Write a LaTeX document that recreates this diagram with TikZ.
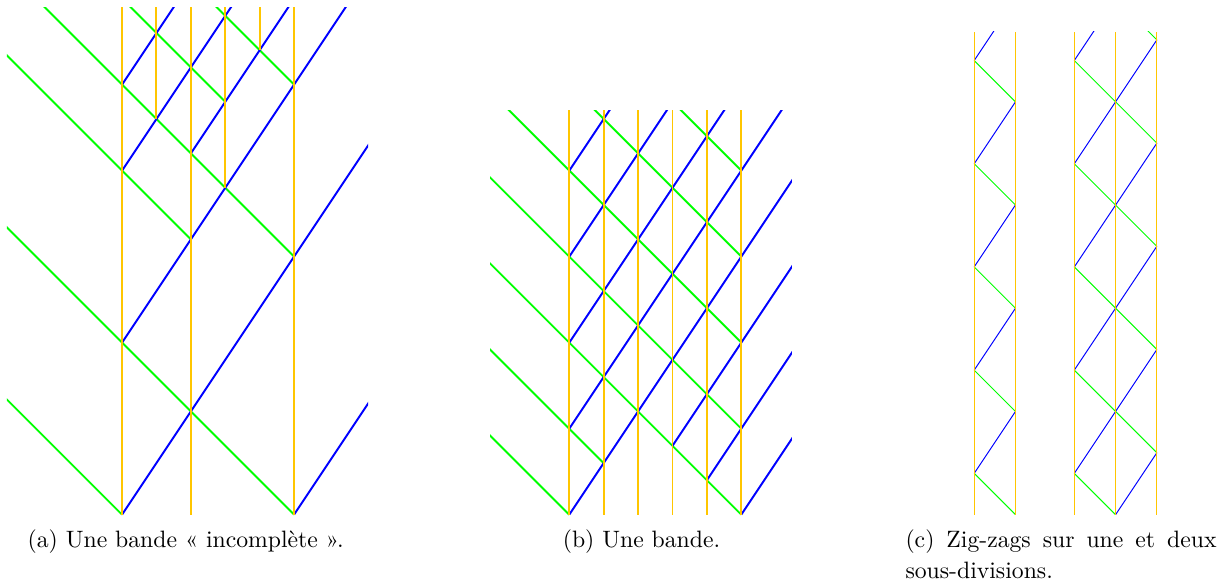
\documentclass[tikz,border=0pt]{standalone}
\usepackage{tikz}
\colorlet{railorange}{orange!45!yellow}

\begin{document}
\begin{tikzpicture}[
    x=0.5cm, y=0.5cm,
    rail/.style={draw=railorange, thick},
    monte/.style={draw=blue, thick},
    descend/.style={draw=green, thick},
    legende/.style={font=\fontsize{9.8pt}{11pt}\selectfont, anchor=base, inner sep=0pt}
]
\useasboundingbox (-3.547,-2.078) rectangle (32.09,14.96);

% (a) bande incomplete
\begin{scope}
  \clip (-3.35,-1) rectangle (7.15,14.75);
  \foreach \x/\y in {0/0, 5/0, 2/8, 5/7.5, 3/12, 5/12.5}
    \draw[descend] (\x-10,\y+10) -- (\x,\y);
  \foreach \x/\y in {5/0, 0/0, 0/5, 2/10.5, 0/10, 0/12.5}
    \draw[monte] (\x,\y) -- ++(10,15);
  \foreach \x/\y in {0/0, 1/11.5, 2/0, 3/9.5, 4/13.5, 5/0}
    \draw[rail] (\x,\y) -- (\x,15);
\end{scope}
\node[legende] (legA) at (1.85,-0.945) {(a) Une bande «~incomplète~».};

% (b) bande complete
\begin{scope}[shift={(13,0)}]
  \clip (-2.3,-1) rectangle (6.47,11.76);
  \foreach \x/\y in {0/0, 1/1.5, 5/0, 5/2.5, 5/5, 5/7.5, 5/10}
    \draw[descend] (\x-10,\y+10) -- (\x,\y);
  \foreach \x/\y in {0/10, 0/7.5, 0/5, 0/2.5, 0/0, 3/2, 4/1, 5/0}
    \draw[monte] (\x,\y) -- ++(10,15);
  \foreach \x in {0,...,5}
    \draw[rail] (\x,0) -- (\x,12);
\end{scope}
\node[legende] (legB) at (15.1,-0.945) {(b) Une bande.};

% (c) zig-zags, une subdivision
\begin{scope}[shift={(24.77,0)}]
\begin{scope}[x=0.6cm, y=0.6cm]
  \clip (-0.5,-1) rectangle (1.5,11.7);
  \foreach \k in {0,...,4} {
    \draw[green] (0,2.5*\k+1) -- ++(1,-1);
    \draw[blue] (0,2.5*\k+1) -- ++(1,1.5);
  }
  \foreach \x in {0,1}
    \draw[railorange] (\x,0) -- (\x,11.7);
\end{scope}
\end{scope}

% (c) zig-zags, deux subdivisions
\begin{scope}[shift={(27.68,0)}]
\begin{scope}[x=0.6cm, y=0.6cm]
  \clip (-0.5,-1) rectangle (2.5,11.7);
  \draw[green] (1,0) -- (0,1);
  \draw[blue] (1,0) -- (2,1.5);
  \foreach \k in {0,...,4} {
    \draw[green] (2,2.5*\k+1.5) -- ++(-2,2);
    \draw[blue] (0,2.5*\k+1) -- ++(2,3);
  }
  \foreach \x in {0,1,2}
    \draw[railorange] (\x,0) -- (\x,11.7);
\end{scope}
\end{scope}
\node[legende, anchor=base west, align=left] (legC) at (22.76,-1.855)
  {\hbox to 4.52cm{(c) Zig-zags sur une et deux}\\[2pt]sous-divisions.};
\end{tikzpicture}
\end{document}
